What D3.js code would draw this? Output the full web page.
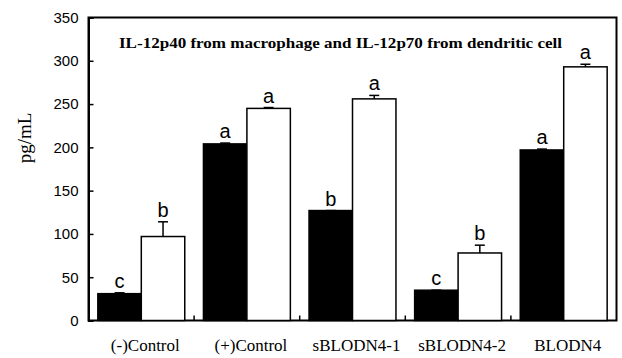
<!DOCTYPE html>
<html><head><meta charset="utf-8">
<script src="https://cdn.jsdelivr.net/npm/d3@7"></script>
<style>html,body{margin:0;padding:0;background:#fff;}</style>
</head><body>
<svg id="chart" width="622" height="358"></svg>
<script>
const categories = ["(-)Control", "(+)Control", "sBLODN4-1", "sBLODN4-2", "BLODN4"];
const macrophageValues = [31, 204, 127, 35, 197];
const macrophageErrors = [1, 1, 0, 0, 1];
const dendriticValues = [97, 245, 256, 78, 293];
const dendriticErrors = [17, 1, 4, 9, 3];
const macrophageLetters = ["c", "a", "b", "c", "a"];
const dendriticLetters = ["b", "a", "a", "b", "a"];
const yTicks = [0, 50, 100, 150, 200, 250, 300, 350];
const titleText = "IL-12p40 from macrophage and IL-12p70 from dendritic cell";
const yLabel = "pg/mL";

const SERIF = "'Liberation Serif', 'Times New Roman', 'DejaVu Serif', serif";
const SANS = "'Liberation Sans', Arial, sans-serif";

const svg = d3.select("#chart");
const m = {left: 88.5, right: 5.5, top: 17.5, bottom: 37.5};
const W = 622, H = 358;
const x0 = d3.scaleBand().domain(categories).range([m.left, W - m.right]).paddingInner(0).paddingOuter(0);
const x1 = d3.scaleBand().domain(["mac", "den"]).range([0, x0.bandwidth()]).paddingOuter(0.215).paddingInner(0);
const y = d3.scaleLinear().domain([0, 350]).range([H - m.bottom, m.top]);

// frame
svg.append("rect").attr("x", m.left).attr("y", m.top)
  .attr("width", W - m.right - m.left).attr("height", H - m.bottom - m.top)
  .attr("fill", "none").attr("stroke", "#000").attr("stroke-width", 2);

// y axis (inner ticks)
const yAxis = d3.axisLeft(y).tickValues(yTicks).tickSize(-5).tickPadding(10);
const gy = svg.append("g").attr("transform", `translate(${m.left},0)`).call(yAxis);
gy.select(".domain").attr("stroke-width", 2);
gy.selectAll(".tick line").attr("stroke-width", 1.5);
gy.selectAll("text").attr("font-family", SANS).attr("font-size", 15).attr("fill", "#000");

// x axis ticks at boundaries
const boundaries = categories.slice(1).map(c => x0(c));
svg.append("g").selectAll("line").data(boundaries).join("line")
  .attr("x1", d => d).attr("x2", d => d)
  .attr("y1", y(0)).attr("y2", y(0) - 5)
  .attr("stroke", "#000").attr("stroke-width", 1.5);

// x labels
svg.append("g").selectAll("text").data(categories).join("text")
  .attr("x", d => x0(d) + x0.bandwidth() / 2 + 4)
  .attr("y", 351)
  .attr("text-anchor", "middle")
  .attr("font-family", SERIF)
  .attr("font-size", 17)
  .text(d => d);

const groups = svg.append("g").selectAll("g").data(categories).join("g")
  .attr("transform", d => `translate(${x0(d)},0)`);

const series = [
  {key: "mac", vals: macrophageValues, errs: macrophageErrors, letters: macrophageLetters, fill: "#000"},
  {key: "den", vals: dendriticValues, errs: dendriticErrors, letters: dendriticLetters, fill: "#fff"}
];

series.forEach(s => {
  groups.append("rect")
    .attr("x", x1(s.key))
    .attr("y", (d, i) => y(s.vals[i]))
    .attr("width", x1.bandwidth())
    .attr("height", (d, i) => y(0) - y(s.vals[i]))
    .attr("fill", s.fill)
    .attr("stroke", "#000").attr("stroke-width", 1.5);
  const cx = x1(s.key) + x1.bandwidth() / 2;
  groups.append("line")
    .attr("x1", cx).attr("x2", cx)
    .attr("y1", (d, i) => y(s.vals[i]))
    .attr("y2", (d, i) => y(s.vals[i] + s.errs[i]))
    .attr("stroke", "#000").attr("stroke-width", 1.5);
  groups.append("line")
    .attr("x1", cx - 5).attr("x2", cx + 5)
    .attr("y1", (d, i) => y(s.vals[i] + s.errs[i]))
    .attr("y2", (d, i) => y(s.vals[i] + s.errs[i]))
    .attr("stroke", "#000").attr("stroke-width", 1.5);
  groups.append("text")
    .attr("x", cx)
    .attr("y", (d, i) => y(s.vals[i] + s.errs[i]) - 5)
    .attr("text-anchor", "middle")
    .attr("font-family", SANS)
    .attr("font-size", 20)
    .text((d, i) => s.letters[i]);
});

// title
svg.append("text")
  .attr("x", 119).attr("y", 48)
  .attr("font-family", SERIF)
  .attr("font-weight", "bold")
  .attr("font-size", 14)
  .attr("textLength", 443)
  .attr("lengthAdjust", "spacingAndGlyphs")
  .text(titleText);

// y label
svg.append("text")
  .attr("transform", "translate(31,138) rotate(-90)")
  .attr("text-anchor", "middle")
  .attr("font-family", SERIF)
  .attr("font-size", 19)
  .text(yLabel);
</script>
</body></html>
